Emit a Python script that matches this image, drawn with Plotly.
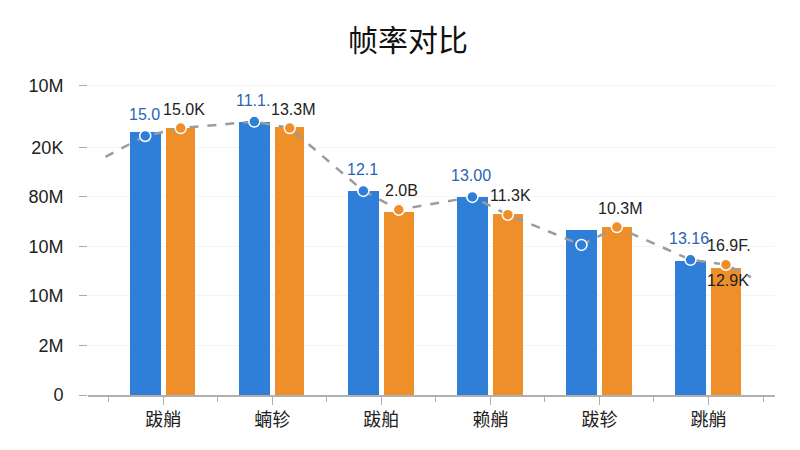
import plotly.graph_objects as go

categories = ["跋艄", "蝻轸", "跋舶", "赖艄", "跋轸", "跳艄"]
fps_a = [5.31, 5.52, 4.12, 4.00, 3.33, 2.71]
fps_b = [5.39, 5.41, 3.70, 3.66, 3.39, 2.57]
trend_a = [5.23, 5.52, 4.12, 4.00, 3.03, 2.73]
trend_b = [5.39, 5.39, 3.74, 3.64, 3.39, 2.63]
trend_start = 4.81
trend_end = 2.38
labels_a = ["15.0", "11.1.", "12.1", "13.00", "", "13.16"]
labels_b = ["15.0K", "13.3M", "2.0B", "11.3K", "10.3M", "16.9F."]
labels_b_inner = ["", "", "", "", "", "12.9K"]
ytick_vals = [0, 1, 2, 3, 4, 5, 6.24]
ytick_text = ["0", "2M", "10M", "10M", "80M", "20K", "10M"]

BLUE = "#2f7fd9"
ORANGE = "#ef8f2a"
FONT = "Liberation Sans, Noto Sans CJK SC, sans-serif"

idx = list(range(len(categories)))
xa = [i - 0.165 for i in idx]
xb = [i + 0.16 for i in idx]

fig = go.Figure()
fig.add_trace(go.Bar(x=xa, y=fps_a, width=0.28, marker=dict(color=BLUE, line_width=0),
                     hoverinfo="skip"))
fig.add_trace(go.Bar(x=xb, y=fps_b, width=0.27, marker=dict(color=ORANGE, line_width=0),
                     hoverinfo="skip"))

# dashed trend line through both series
line_x = [-0.53]
line_y = [trend_start]
for i in idx:
    line_x += [xa[i], xb[i]]
    line_y += [trend_a[i], trend_b[i]]
line_x.append(len(idx) - 1 + 0.39)
line_y.append(trend_end)
fig.add_trace(go.Scatter(x=line_x, y=line_y, mode="lines",
                         line=dict(color="#9c9c9c", width=2.5, dash="dash")))

fig.add_trace(go.Scatter(x=xa, y=trend_a, mode="markers",
                         marker=dict(color=BLUE, size=11, line=dict(color="white", width=1.5))))
fig.add_trace(go.Scatter(x=xb, y=trend_b, mode="markers",
                         marker=dict(color=ORANGE, size=11, line=dict(color="white", width=1.5))))

# value labels
for i in idx:
    if labels_a[i]:
        fig.add_annotation(x=xa[i], y=trend_a[i], text=labels_a[i], showarrow=False,
                           yshift=21, xshift=-1,
                           font=dict(color="#2a64b5", size=16, family=FONT))
    if labels_b[i]:
        fig.add_annotation(x=xb[i], y=trend_b[i], text=labels_b[i], showarrow=False,
                           yshift=19, xshift=3,
                           font=dict(color="#222222", size=16, family=FONT))
    if labels_b_inner[i]:
        fig.add_annotation(x=xb[i], y=trend_b[i], text=labels_b_inner[i], showarrow=False,
                           yshift=-16, xshift=2,
                           font=dict(color="#222222", size=16, family=FONT))

fig.update_layout(
    width=800, height=450,
    margin=dict(l=80, r=33, t=72, b=63),
    paper_bgcolor="white", plot_bgcolor="white",
    showlegend=False, bargap=0,
    font=dict(family=FONT, color="#222222"),
    title=dict(text="帧率对比", x=0.5, xanchor="center", y=0.927, yanchor="middle",
               font=dict(size=30, color="#111111", family="Noto Sans CJK SC")),
)
fig.update_xaxes(range=[-0.69, 5.61], tickvals=idx, ticktext=categories,
                 ticks="outside", ticklen=8, tickcolor="#b0b0b0",
                 showline=True, linecolor="#b0b0b0", linewidth=1.5,
                 showgrid=False, zeroline=False,
                 tickfont=dict(size=18, color="#222222", family="Noto Sans CJK SC"),
                 minor=dict(tick0=-0.5, dtick=1, ticks="outside", ticklen=5,
                            tickcolor="#b0b0b0"))
fig.update_yaxes(range=[0, 6.36], tickvals=ytick_vals, ticktext=ytick_text,
                 ticks="outside", ticklen=8, tickcolor="#aaaaaa",
                 ticklabelstandoff=12,
                 showline=False, zeroline=False,
                 showgrid=True, gridcolor="#f4f4f4",
                 tickfont=dict(size=18, color="#222222"))

fig.write_html("out.html")
